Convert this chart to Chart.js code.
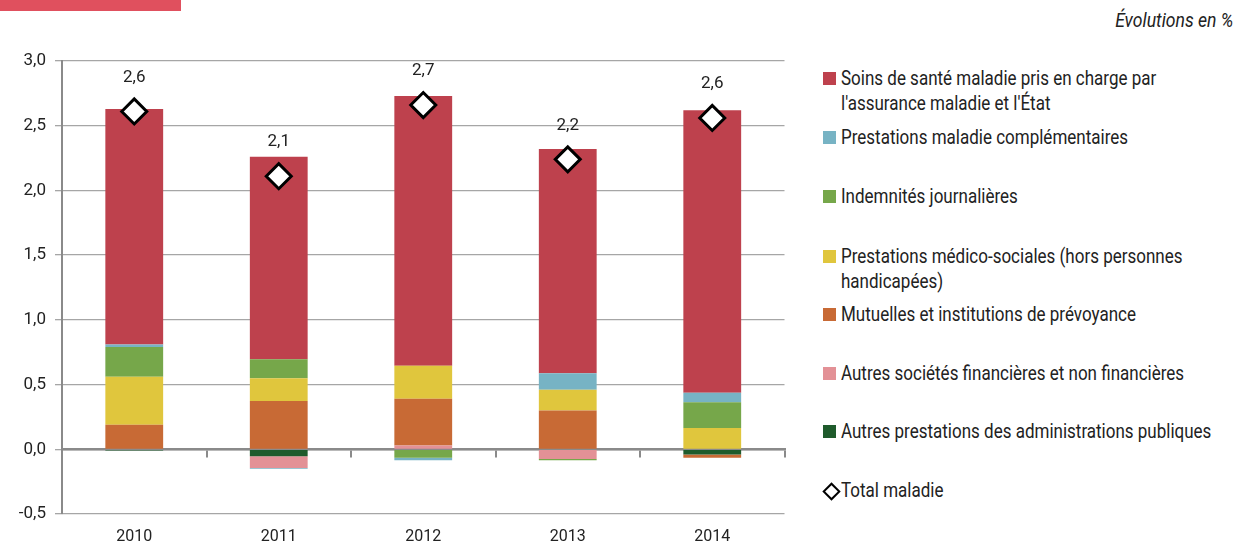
<!DOCTYPE html>
<html>
<head>
<meta charset="utf-8">
<script src="https://cdn.jsdelivr.net/npm/chart.js@4.4.0/dist/chart.umd.min.js"></script>
<style>
  html, body { margin: 0; padding: 0; background: #fff; }
  body { width: 1239px; height: 544px; position: relative; overflow: hidden;
         font-family: 'Liberation Sans Narrow', 'Roboto', sans-serif; }
  #topbar { position: absolute; left: 0; top: 0; width: 181px; height: 11px; background: #E0505E; }
  #subtitle { position: absolute; right: 6px; top: 8px; font-size: 20px; font-style: italic; color: #222;
              transform: scaleX(0.88); transform-origin: right center; }
  #wrap { position: absolute; left: 0; top: 0; width: 800px; height: 544px; }
  #legend { position: absolute; left: 822px; top: 0; width: 417px; }
  .item { position: absolute; left: 0; font-size: 20px; color: #222; line-height: 25px; }
  .sw { position: absolute; left: 1px; top: 6px; width: 13px; height: 13px; }
  .txt { position: absolute; left: 19px; top: 0; white-space: nowrap; transform: scaleX(0.85); transform-origin: left top; }
  .dia { position: absolute; left: 3px; top: 7px; width: 9px; height: 9px; border: 2px solid #000; transform: rotate(45deg); background: #fff; }
</style>
</head>
<body>
<div id="topbar"></div>
<div id="subtitle">Évolutions en %</div>
<div id="wrap"><canvas id="c" width="800" height="544"></canvas></div>
<div id="legend"></div>
<script>
// ---- data ----
const years = ['2010', '2011', '2012', '2013', '2014'];
const autresPrestationsAPU = [-0.01, -0.054, 0, -0.005, -0.04];
const autresSocietes = [0, -0.09, 0.03, -0.07, 0];
const mutuelles = [0.19, 0.373, 0.36, 0.30, -0.025];
const medicoSociales = [0.37, 0.175, 0.256, 0.16, 0.165];
const indemnites = [0.23, 0.147, -0.065, -0.01, 0.198];
const complementaires = [0.02, -0.006, -0.02, 0.127, 0.074];
const soinsSante = [1.82, 1.565, 2.084, 1.733, 2.183];
const totalMaladie = [2.61, 2.11, 2.66, 2.24, 2.56];
const yTicks = [-0.5, 0, 0.5, 1.0, 1.5, 2.0, 2.5, 3.0];

const labelSoins = ["Soins de santé maladie pris en charge par", "l'assurance maladie et l'État"];
const labelCompl = ["Prestations maladie complémentaires"];
const labelIJ = ["Indemnités journalières"];
const labelMedico = ["Prestations médico-sociales (hors personnes", "handicapées)"];
const labelMutuelles = ["Mutuelles et institutions de prévoyance"];
const labelAutresSoc = ["Autres sociétés financières et non financières"];
const labelAPU = ["Autres prestations des administrations publiques"];
const labelTotal = ["Total maladie"];

const fmt = v => v.toFixed(1).replace('.', ',');
const FONT = "'Liberation Sans Narrow', 'Roboto', sans-serif";

const barSets = [
  { label: labelAPU, data: autresPrestationsAPU, color: '#1F5B2C' },
  { label: labelAutresSoc, data: autresSocietes, color: '#E39196' },
  { label: labelMutuelles, data: mutuelles, color: '#C86A35' },
  { label: labelMedico, data: medicoSociales, color: '#E0C63D' },
  { label: labelIJ, data: indemnites, color: '#76A74A' },
  { label: labelCompl, data: complementaires, color: '#77B3C4' },
  { label: labelSoins, data: soinsSante, color: '#BE414D' }
];

const datasets = [{
  type: 'line',
  label: labelTotal.join(' '),
  data: totalMaladie,
  showLine: false,
  stack: 'total',
  order: -1,
  pointStyle: 'rectRot',
  pointRadius: 12.5,
  pointHoverRadius: 12.5,
  pointBackgroundColor: '#fff',
  pointBorderColor: '#000',
  pointBorderWidth: 3
}].concat(barSets.map(s => ({
  type: 'bar',
  label: s.label.join(' '),
  data: s.data,
  backgroundColor: s.color,
  borderWidth: 0,
  stack: 'bars',
  barPercentage: 0.8,
  categoryPercentage: 0.5
})));

const valueLabels = {
  id: 'valueLabels',
  afterDatasetsDraw(chart) {
    const meta = chart.getDatasetMeta(0);
    const ctx = chart.ctx;
    ctx.save();
    ctx.font = '17px ' + FONT;
    ctx.fillStyle = '#222';
    ctx.textAlign = 'center';
    ctx.textBaseline = 'middle';
    meta.data.forEach((pt, i) => {
      ctx.fillText(fmt(totalMaladie[i]), pt.x, pt.y - 34);
    });
    ctx.restore();
  }
};

new Chart(document.getElementById('c'), {
  data: { labels: years, datasets },
  plugins: [valueLabels],
  options: {
    responsive: false,
    animation: false,
    events: [],
    layout: { padding: { top: 61, right: 8, left: 0, bottom: 0 } },
    plugins: { legend: { display: false }, tooltip: { enabled: false } },
    scales: {
      x: {
        type: 'category',
        offset: true,
        grid: { display: false, drawTicks: false },
        border: { display: false },
        ticks: { color: '#222', font: { family: FONT, size: 16 }, padding: 13 },
        afterFit: s => { s.height = 30; }
      },
      x2: {
        type: 'category',
        labels: years,
        position: { y: 0 },
        offset: true,
        ticks: { display: false },
        grid: { display: true, drawOnChartArea: false, drawTicks: true, tickLength: 7, color: '#8a8a8a', lineWidth: 2, offset: true },
        border: { display: true, color: '#8a8a8a', width: 2.5 }
      },
      y: {
        stacked: true,
        min: -0.5,
        max: 3.0,
        afterBuildTicks: s => { s.ticks = yTicks.map(v => ({ value: v })); },
        ticks: { color: '#222', font: { family: FONT, size: 17 }, padding: 9, callback: v => fmt(v) },
        grid: { color: '#a6a6a6', lineWidth: 1.3, tickLength: 7, drawTicks: true },
        border: { display: true, color: '#8a8a8a', width: 2 },
        afterFit: s => { s.width = 62; }
      }
    }
  }
});

// ---- HTML legend built from the same series definitions ----
const legendItems = barSets.slice().reverse().map(s => ({ lines: s.label, color: s.color }));
legendItems.push({ lines: labelTotal, color: null });
const legendTops = [66, 125, 184, 244, 302, 361, 419, 478];
const legend = document.getElementById('legend');
legendItems.forEach((it, i) => {
  const d = document.createElement('div');
  d.className = 'item';
  d.style.top = legendTops[i] + 'px';
  const sw = document.createElement('div');
  if (it.color) { sw.className = 'sw'; sw.style.background = it.color; }
  else { sw.className = 'dia'; }
  d.appendChild(sw);
  const t = document.createElement('div');
  t.className = 'txt';
  t.innerHTML = it.lines.map(l => l.replace(/&/g, '&amp;').replace(/</g, '&lt;')).join('<br>');
  d.appendChild(t);
  legend.appendChild(d);
});
</script>
</body>
</html>
